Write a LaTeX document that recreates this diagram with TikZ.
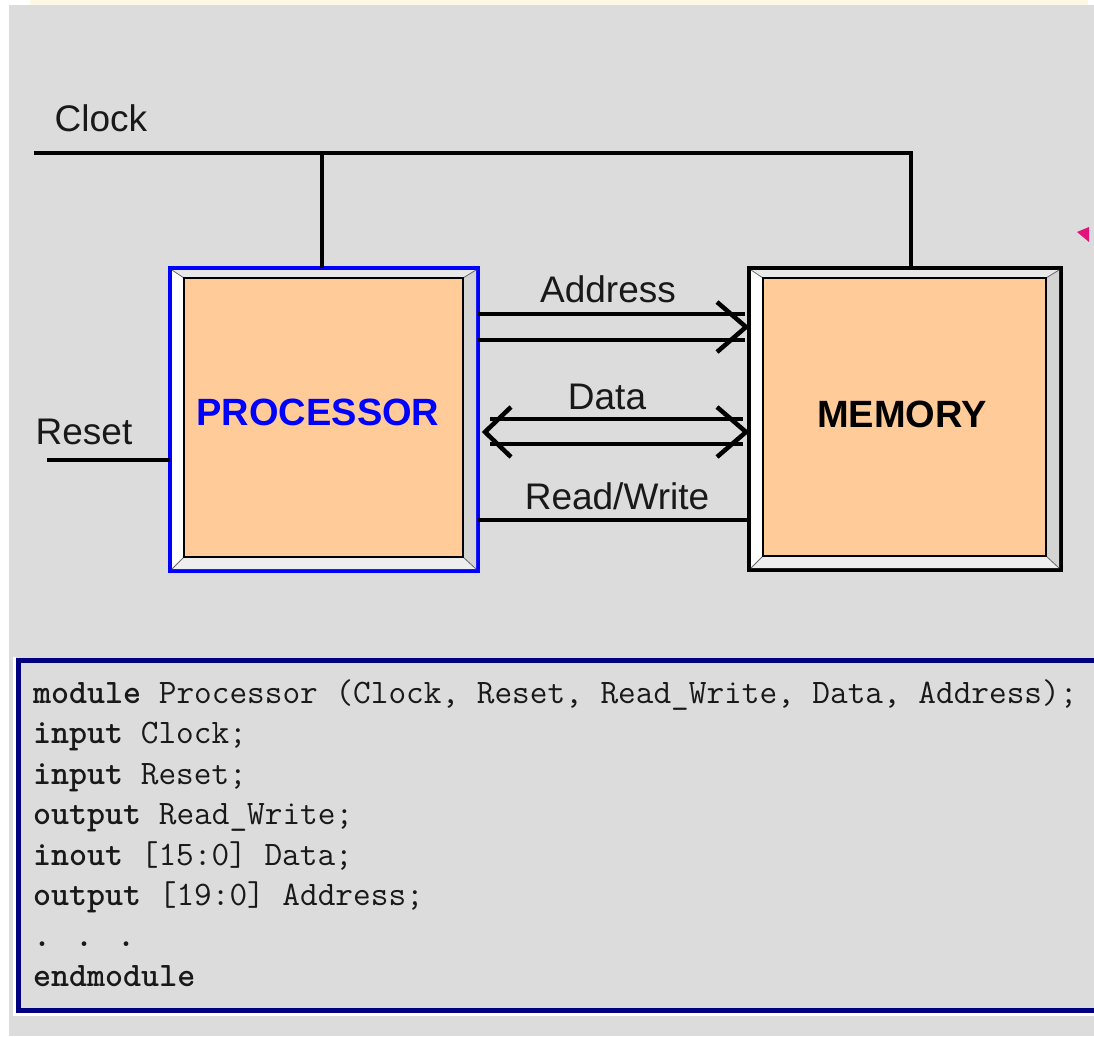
\documentclass[tikz,border=0pt]{standalone}
\usepackage{fontspec}
\setmainfont{Liberation Sans}
\usetikzlibrary{calc}

\definecolor{panelgray}{HTML}{DCDCDC}
\definecolor{creamtint}{HTML}{FDF7E6}
\definecolor{boxorange}{HTML}{FFCC99}
\definecolor{navyline}{HTML}{000080}
\definecolor{frametop}{HTML}{E8E8E8}
\definecolor{frameright}{HTML}{D4D4D4}
\definecolor{framebottom}{HTML}{EEEEEE}
\definecolor{pinkmark}{HTML}{E0147C}

\tikzset{
  wire/.style={line width=4.5pt, black, line join=miter, miter limit=10},
  chip/.style={rectangle, draw=black, line width=4.5pt, outer sep=0pt, inner sep=0pt, fill=panelgray},
  lbl/.style={inner sep=0pt, text=black!90, font=\fontsize{37}{40}\selectfont},
  chiplbl/.style={inner sep=0pt, font=\bfseries\fontsize{38}{40}\selectfont},
  codeline/.style={inner sep=0pt, anchor=base west, text=black!90, font=\ttfamily\fontsize{34.3}{38}\selectfont},
}

% raised frame inside a chip node: light strips between border and orange face
\newcommand\bevelframe[1]{%
  \coordinate (#1-a) at ($(#1.north west)+(2,2)$);
  \coordinate (#1-b) at ($(#1.north east)+(-2,2)$);
  \coordinate (#1-c) at ($(#1.south east)+(-2,-2)$);
  \coordinate (#1-d) at ($(#1.south west)+(2,-2)$);
  \coordinate (#1-A) at ($(#1.north west)+(14,10)$);
  \coordinate (#1-B) at ($(#1.north east)+(-15,10)$);
  \coordinate (#1-C) at ($(#1.south east)+(-15,-14)$);
  \coordinate (#1-D) at ($(#1.south west)+(14,-14)$);
  \fill[frametop] (#1-a) -- (#1-b) -- (#1-B) -- (#1-A) -- cycle;
  \fill[frameright] (#1-b) -- (#1-c) -- (#1-C) -- (#1-B) -- cycle;
  \fill[framebottom] (#1-c) -- (#1-d) -- (#1-D) -- (#1-C) -- cycle;
  \fill[white] (#1-d) -- (#1-a) -- (#1-A) -- (#1-D) -- cycle;
  \draw[black!60, line width=0.8pt] (#1-a) -- (#1-A) (#1-b) -- (#1-B)
        (#1-c) -- (#1-C) (#1-d) -- (#1-D);
  \draw[fill=boxorange, line width=1.2pt] (#1-A) rectangle (#1-C);
}

\begin{document}
\begin{tikzpicture}[x=1pt,y=-1pt]
\useasboundingbox (0,0) rectangle (1094,1036);
\clip (0,0) rectangle (1094,1036);

% page background
\fill[white] (0,0) rectangle (1094,1036);
\fill[creamtint] (30,0) rectangle (1088,5);
\fill[panelgray] (9,5) rectangle (1094,1036);

% the two blocks
\node[chip, draw=blue, line width=4pt, minimum width=308pt, minimum height=303pt] (proc) at (324,419.5) {};
\bevelframe{proc}
\node[chip, minimum width=312pt, minimum height=302pt] (mem) at (905,419) {};
\bevelframe{mem}

\node[chiplbl, text=blue, anchor=base] (proclbl) at (318,425) {PROCESSOR};
\node[chiplbl, text=black, anchor=base] (memlbl) at (902,427) {MEMORY};

% clock net
\coordinate (clk) at (34,153);
\draw[wire] (clk) -| ($(mem.north)+(6,0)$);
\draw[wire] ($(proc.north)+(-2,0)$) -- ($(proc.north |- clk)+(-2,0)$);
\node[lbl, anchor=base] (clklbl) at (101,131) {Clock};

% reset input
\coordinate (rst) at (47,460);
\draw[wire] (rst) -- (rst -| proc.west);
\node[lbl, anchor=base] (rstlbl) at (84,444) {Reset};

% address bus
\draw[wire] ($(proc.east)+(0,-105.5)$) -- ($(mem.west)+(-4,-105)$);
\draw[wire] ($(proc.east)+(0,-79.5)$) -- ($(mem.west)+(-4,-79)$);
\coordinate (addrtip) at ($(mem.west)+(-3,-92)$);
\draw[wire] ($(addrtip)+(-29,-25)$) -- (addrtip) -- ($(addrtip)+(-29,25)$);
\node[lbl, anchor=base] (addrlbl) at (608,302) {Address};

% data bus
\draw[wire] ($(proc.east)+(12,-0.5)$) -- ($(mem.west)+(-6,0)$);
\draw[wire] ($(proc.east)+(12,24.5)$) -- ($(mem.west)+(-6,25)$);
\coordinate (datal) at ($(proc.east)+(7,12.5)$);
\coordinate (datar) at ($(mem.west)+(-3,13)$);
\draw[wire] ($(datal)+(26,-25)$) -- (datal) -- ($(datal)+(26,25)$);
\draw[wire] ($(datar)+(-29,-25)$) -- (datar) -- ($(datar)+(-29,25)$);
\node[lbl, anchor=base] (datalbl) at (607,409) {Data};

% read/write strobe
\draw[wire] ($(proc.east)+(0,100.5)$) -- ($(mem.west)+(0,101)$);
\node[lbl, anchor=base] (rwlbl) at (617,509) {Read/Write};

% small marker at the right edge
\fill[pinkmark] (1077,232) -- (1089,227) -- (1089,242) -- cycle;

% Verilog listing panel
\draw[white, line width=2.5pt] (14.5,657) -- (14.5,1014.5) -- (1100,1014.5);
\node[draw=navyline, line width=5pt, outer sep=0pt, inner sep=0pt, anchor=north west,
      minimum width=1100pt, minimum height=350pt] (code) at (18.5,660.5) {};

\node[codeline] (l1) at (33,703) {\textbf{module} Processor (Clock, Reset, Read\_Write, Data, Address);};
\node[codeline] (l2) at (33,743.5) {\textbf{input} Clock;};
\node[codeline] (l3) at (33,784) {\textbf{input} Reset;};
\node[codeline] (l4) at (33,824.5) {\textbf{output} Read\_Write;};
\node[codeline] (l5) at (33,865) {\textbf{inout} [15:0] Data;};
\node[codeline] (l6) at (33,905.5) {\textbf{output} [19:0] Address;};
\node[codeline] (l7) at (33,946) {\textbf{. . .}};
\node[codeline] (l8) at (33,986.5) {\textbf{endmodule}};
\end{tikzpicture}
\end{document}
